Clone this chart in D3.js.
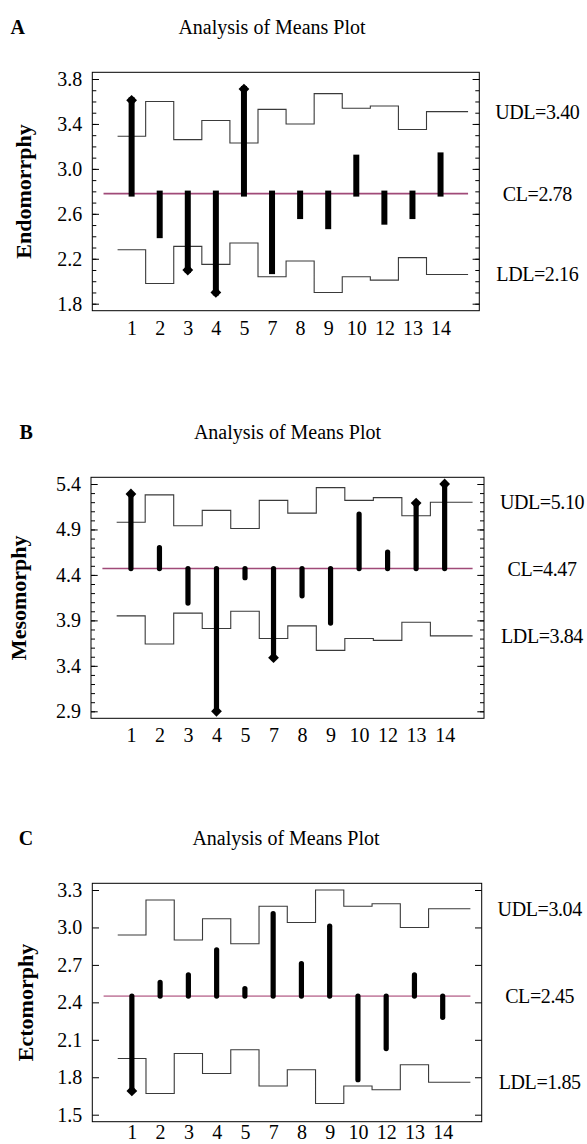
<!DOCTYPE html>
<html>
<head>
<meta charset="utf-8">
<script src="https://cdn.jsdelivr.net/npm/d3@7"></script>
<style>
  body { margin: 0; background: #fff; }
  svg text { font-family: "Liberation Serif", "Times New Roman", serif; fill: #000; }
</style>
</head>
<body>
<div class="graphic"></div>
<script>
// groups on the x axis
const groups = ["1", "2", "3", "4", "5", "7", "8", "9", "10", "12", "13", "14"];

// A - endomorphy
const endoMeans = [3.61, 2.41, 2.10, 1.90, 3.71, 2.09, 2.58, 2.49, 3.10, 2.53, 2.58, 3.12];
const endoUDL = [3.29, 3.60, 3.26, 3.43, 3.23, 3.53, 3.40, 3.67, 3.54, 3.56, 3.35, 3.51];
const endoLDL = [2.28, 1.98, 2.31, 2.15, 2.34, 2.04, 2.18, 1.90, 2.04, 2.01, 2.21, 2.06];
const endoLimits = { UDL: 3.40, CL: 2.78, LDL: 2.16 };
const endoTicks = [1.8, 2.2, 2.6, 3.0, 3.4, 3.8];

// B - mesomorphy
const mesoMeans = [5.29, 4.70, 4.09, 2.90, 4.37, 3.49, 4.17, 3.87, 5.07, 4.65, 5.19, 5.40];
const mesoUDL = [4.98, 5.28, 4.94, 5.11, 4.91, 5.22, 5.08, 5.36, 5.22, 5.25, 5.05, 5.20];
const mesoLDL = [3.95, 3.64, 3.98, 3.81, 4.00, 3.70, 3.84, 3.57, 3.70, 3.68, 3.88, 3.73];
const mesoLimits = { UDL: 5.10, CL: 4.47, LDL: 3.84 };
const mesoTicks = [2.9, 3.4, 3.9, 4.4, 4.9, 5.4];

// C - ectomorphy
const ectoMeans = [1.69, 2.56, 2.62, 2.82, 2.51, 3.11, 2.71, 3.01, 1.78, 2.03, 2.62, 2.28];
const ectoUDL = [2.94, 3.22, 2.90, 3.07, 2.87, 3.17, 3.04, 3.30, 3.17, 3.19, 3.00, 3.15];
const ectoLDL = [1.95, 1.67, 1.99, 1.83, 2.02, 1.73, 1.86, 1.59, 1.73, 1.70, 1.90, 1.76];
const ectoLimits = { UDL: 3.04, CL: 2.45, LDL: 1.85 };
const ectoTicks = [1.5, 1.8, 2.1, 2.4, 2.7, 3.0, 3.3];

const panels = [
  { letter: "A", yLabel: "Endomorrphy", means: endoMeans, udl: endoUDL, ldl: endoLDL,
    lim: endoLimits, ticks: endoTicks, minor: true, cap: "square", clColor: "#a04a78",
    left: 92.3, right: 479.3, top: 72.3, bottom: 310.7, titleX: 272, letterX: 10.5, yLabelX: 31, xPad: 10 },
  { letter: "B", yLabel: "Mesomorphy", means: mesoMeans, udl: mesoUDL, ldl: mesoLDL,
    lim: mesoLimits, ticks: mesoTicks, minor: true, cap: "round", clColor: "#a04a78",
    left: 91, right: 484, top: 477.3, bottom: 718.3, titleX: 287.5, letterX: 19.5, yLabelX: 26, xPad: 10 },
  { letter: "C", yLabel: "Ectomorphy", means: ectoMeans, udl: ectoUDL, ldl: ectoLDL,
    lim: ectoLimits, ticks: ectoTicks, minor: false, cap: "round", clColor: "#c88aa8",
    left: 92.3, right: 481.7, top: 883.3, bottom: 1121.7, titleX: 286, letterX: 18.7, yLabelX: 33, xPad: 3.5 }
];

let svg = d3.select(".graphic")
            .append("svg")
            .attr("width", 587)
            .attr("height", 1144);

function drawPanel(p) {
  let g = svg.append("g");
  let x = d3.scaleLinear().domain([-1.4, 12.38]).range([p.left, p.right]);
  let y = d3.scaleLinear().domain(d3.extent(p.ticks)).range([p.bottom - 7, p.top + 6.7]);
  let idx = d3.range(groups.length);
  let fmt = d3.format(".1f");

  // minor ticks
  if (p.minor) {
    let minors = d3.range(Math.round(p.ticks[0] * 10), Math.round(p.ticks[p.ticks.length - 1] * 10) + 1)
                   .map(d => d / 10);
    g.append("g").attr("transform", `translate(${p.left},0)`)
      .call(d3.axisLeft(y).tickValues(minors).tickSize(-4).tickFormat(""));
    g.append("g").attr("transform", `translate(${p.right},0)`)
      .call(d3.axisRight(y).tickValues(minors).tickSize(-4).tickFormat(""));
  }
  let yl = g.append("g").attr("transform", `translate(${p.left},0)`)
    .call(d3.axisLeft(y).tickValues(p.ticks).tickSize(-6.7).tickPadding(10).tickFormat(fmt));
  yl.selectAll("text").style("font-size", "20px").style("font-family", null);
  g.append("g").attr("transform", `translate(${p.right},0)`)
    .call(d3.axisRight(y).tickValues(p.ticks).tickSize(-6.7).tickFormat(""));

  let xl = g.append("g").attr("transform", `translate(0,${p.bottom})`)
    .call(d3.axisBottom(x).tickValues(idx).tickSize(0).tickPadding(p.xPad).tickFormat(i => groups[i]));
  xl.selectAll("text").style("font-size", "20px").style("font-family", null);
  g.selectAll(".domain").remove();
  g.selectAll(".tick line").attr("stroke", "#000");

  // frame
  g.append("rect")
    .attr("x", p.left).attr("y", p.top)
    .attr("width", p.right - p.left).attr("height", p.bottom - p.top)
    .attr("fill", "none").attr("stroke", "#000").attr("stroke-width", 1);

  // decision limits (steps)
  let step = d3.line().x(d => x(d[0])).y(d => y(d[1])).curve(d3.curveStepAfter);
  [p.udl, p.ldl].forEach(arr => {
    let pts = arr.map((v, i) => [i - 0.5, v]);
    pts.push([11.98, arr[arr.length - 1]]);
    g.append("path").attr("d", step(pts))
      .attr("fill", "none").attr("stroke", "#3a3a3a").attr("stroke-width", 1.1);
  });

  // centre line
  g.append("line")
    .attr("x1", x(-1)).attr("x2", x(11.98))
    .attr("y1", y(p.lim.CL)).attr("y2", y(p.lim.CL))
    .attr("stroke", p.clColor).attr("stroke-width", 1.6);

  // mean bars
  g.selectAll(".bar").data(p.means).join("line")
    .attr("x1", (d, i) => x(i)).attr("x2", (d, i) => x(i))
    .attr("y1", y(p.lim.CL)).attr("y2", d => y(d))
    .attr("stroke", "#000")
    .attr("stroke-width", p.cap === "square" ? 6 : 5.2)
    .attr("stroke-linecap", p.cap);

  // diamonds where the mean falls outside its limits
  let out = p.means.map((v, i) => ({ v, i })).filter(d => d.v > p.udl[d.i] || d.v < p.ldl[d.i]);
  g.selectAll(".dia").data(out).join("path")
    .attr("d", d3.symbol(d3.symbolSquare, 58))
    .attr("transform", d => `translate(${x(d.i)},${y(d.v)}) rotate(45)`)
    .attr("fill", "#000");

  // limit labels on the right
  let n = groups.length - 1;
  [["UDL", p.udl[n]], ["CL", p.lim.CL], ["LDL", p.ldl[n]]].forEach(([k, pos]) => {
    g.append("text")
      .attr("x", p.right + 58).attr("y", y(pos))
      .attr("text-anchor", "middle").attr("dominant-baseline", "central")
      .style("font-size", "20px").style("letter-spacing", "-0.4px")
      .text(k + "=" + p.lim[k].toFixed(2));
  });

  // titles
  g.append("text")
    .attr("x", p.titleX).attr("y", p.top - 45.3)
    .attr("text-anchor", "middle").attr("dominant-baseline", "central")
    .style("font-size", "20px")
    .text("Analysis of Means Plot");
  g.append("text")
    .attr("x", p.letterX).attr("y", p.top - 45.3)
    .attr("dominant-baseline", "central")
    .style("font-size", "20px").style("font-weight", "bold")
    .text(p.letter);
  g.append("text")
    .attr("transform", `translate(${p.yLabelX},${(p.top + p.bottom) / 2}) rotate(-90)`)
    .attr("text-anchor", "middle")
    .style("font-size", "22px").style("font-weight", "bold")
    .text(p.yLabel);
}

panels.forEach(drawPanel);
</script>
</body>
</html>
